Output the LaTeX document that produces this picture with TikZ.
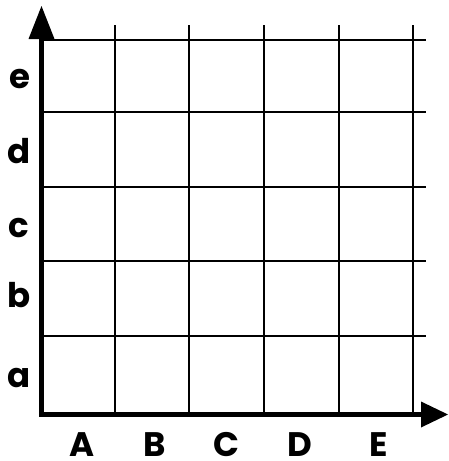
\documentclass[tikz,border=0pt]{standalone}
\usepackage{fontspec}
\setmainfont{Poppins}
\tikzset{
  gridline/.style={line width=1.3pt, black},
  axisline/.style={line width=4.5pt, black, line join=miter},
  axishead/.style={fill=black, draw=none},
  lbl/.style={font=\fontsize{34}{36}\selectfont\bfseries, inner sep=0pt, anchor=base}
}
\begin{document}
\begin{tikzpicture}[x=1pt,y=-1pt]
\useasboundingbox (0,0) rectangle (448,461);
% grid
\foreach \gx in {115,189,264,339,413} {
  \draw[gridline] (\gx,25) -- (\gx,414);
}
\foreach \gy in {40,112,187,261,336} {
  \draw[gridline] (41.5,\gy) -- (426,\gy);
}
% axes
\coordinate (ytip) at (41.5,6);
\coordinate (ybase) at (41.5,39);
\coordinate (origin) at (41.5,414.5);
\coordinate (xbase) at (421,414.5);
\coordinate (xtip) at (448,414.5);
\draw[axisline] (ybase) -- (origin) -- (xbase);
\fill[axishead] (ytip) -- ([xshift=-13pt]ybase) -- ([xshift=13pt]ybase) -- cycle;
\fill[axishead] (xtip) -- ([yshift=-13pt]xbase) -- ([yshift=13pt]xbase) -- cycle;
% y labels
\node[lbl] (le) at (20,88) {e};
\node[lbl] (ld) at (19,163) {d};
\node[lbl] (lc) at (19,237) {c};
\node[lbl] (lb) at (19,307) {b};
\node[lbl] (la) at (19,387) {a};
% x labels
\node[lbl] (xA) at (82,456) {A};
\node[lbl] (xB) at (155,456) {B};
\node[lbl] (xC) at (226,456) {C};
\node[lbl] (xD) at (300,456) {D};
\node[lbl] (xE) at (379,456) {E};
\end{tikzpicture}
\end{document}
